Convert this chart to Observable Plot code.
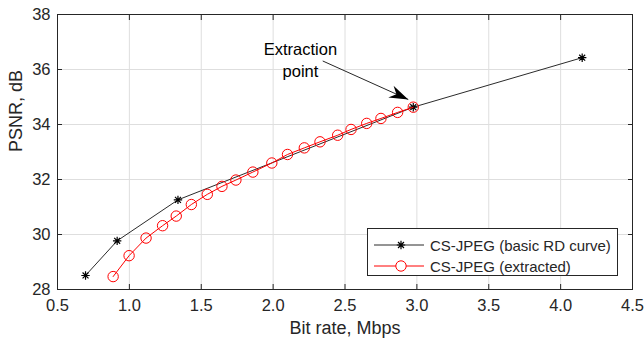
<!DOCTYPE html>
<html>
<head>
<meta charset="utf-8">
<script src="https://cdn.jsdelivr.net/npm/d3@7"></script>
<script src="https://cdn.jsdelivr.net/npm/@observablehq/plot@0.6"></script>
<style>
  html, body { margin: 0; padding: 0; background: #fff; }
  #wrap { position: relative; width: 644px; height: 339px; font-family: "Liberation Sans", Arial, Helvetica, sans-serif; color: #262626; }
  #legend { position: absolute; left: 367px; top: 228px; width: 251px; height: 48px; box-sizing: border-box;
            border: 1px solid #262626; background: #fff; font-size: 15px; }
  #legend .row { position: absolute; left: 0; height: 20px; display: flex; align-items: center; white-space: nowrap; }
  #legend svg { display: block; }
</style>
</head>
<body>
<div id="wrap"></div>
<script>
// ---- data ----
const basicRate = [0.695, 0.915, 1.338, 2.975, 4.15];
const basicPsnr = [28.51, 29.77, 31.26, 34.63, 36.43];

const extractedRate = [0.887, 0.998, 1.116, 1.231, 1.326, 1.431, 1.542, 1.644, 1.741, 1.859,
                       1.991, 2.100, 2.217, 2.326, 2.449, 2.542, 2.651, 2.750, 2.866, 2.975];
const extractedPsnr = [28.47, 29.23, 29.87, 30.32, 30.67, 31.09, 31.46, 31.75, 31.98, 32.27,
                       32.60, 32.91, 33.15, 33.37, 33.61, 33.82, 34.04, 34.22, 34.44, 34.63];

const seriesNames = ["CS-JPEG (basic RD curve)", "CS-JPEG (extracted)"];
const xTicks = [0.5, 1, 1.5, 2, 2.5, 3, 3.5, 4, 4.5];
const yTicks = [28, 30, 32, 34, 36, 38];
const xLabel = "Bit rate, Mbps";
const yLabel = "PSNR, dB";

const noteText = ["Extraction\npoint"];
const noteX = [2.19];
const noteY = [36.40];
const arrowFrom = [2.345, 36.31];
const arrowTo = [2.94, 34.91];

// ---- tables ----
const basic = basicRate.map((x, i) => ({x, y: basicPsnr[i]}));
const extracted = extractedRate.map((x, i) => ({x, y: extractedPsnr[i]}));
const notes = noteText.map((t, i) => ({t, x: noteX[i], y: noteY[i]}));
const arrows = [{x1: arrowFrom[0], y1: arrowFrom[1], x2: arrowTo[0], y2: arrowTo[1]}];

const ink = "#262626";
const blackLine = "#2b2b2b";
const red = "#ff0000";

// 8-armed asterisk like MATLAB '*'
const star = {
  draw(ctx, size) {
    const r = Math.sqrt(size / Math.PI);
    const d = r * Math.SQRT1_2;
    ctx.moveTo(-r, 0); ctx.lineTo(r, 0);
    ctx.moveTo(0, -r); ctx.lineTo(0, r);
    ctx.moveTo(-d, -d); ctx.lineTo(d, d);
    ctx.moveTo(-d, d); ctx.lineTo(d, -d);
  }
};

// filled arrow head
function filledHead(color) {
  const ns = "http://www.w3.org/2000/svg";
  const m = document.createElementNS(ns, "marker");
  m.setAttribute("viewBox", "-20 -10 21 20");
  m.setAttribute("markerWidth", 21);
  m.setAttribute("markerHeight", 20);
  m.setAttribute("markerUnits", "userSpaceOnUse");
  m.setAttribute("orient", "auto");
  m.setAttribute("refX", 0);
  m.setAttribute("refY", 0);
  const p = document.createElementNS(ns, "path");
  p.setAttribute("d", "M0,0L-19,-6.5L-13,0L-19,6.5Z");
  p.setAttribute("fill", "#000");
  p.setAttribute("stroke", "none");
  m.appendChild(p);
  return m;
}

const chart = Plot.plot({
  width: 644,
  height: 339,
  marginLeft: 57,
  marginRight: 12,
  marginTop: 14,
  marginBottom: 50,
  style: {fontFamily: "'Liberation Sans', Arial, Helvetica, sans-serif", fontSize: "16.5px", color: ink, background: "#fff", overflow: "visible"},
  x: {domain: [0.5, 4.5]},
  y: {domain: [28, 38]},
  marks: [
    Plot.gridX(xTicks, {stroke: "#dedede", strokeOpacity: 1}),
    Plot.gridY(yTicks, {stroke: "#dedede", strokeOpacity: 1}),
    Plot.axisX(xTicks, {tickSize: -5, tickPadding: 14.5, label: null, stroke: ink, fill: ink, fontSize: 16.5}),
    Plot.axisX(xTicks, {anchor: "top", tickSize: -5, tickFormat: () => "", label: null, stroke: ink}),
    Plot.axisY(yTicks, {tickSize: -5, tickPadding: 12, label: null, stroke: ink, fill: ink, fontSize: 16.5}),
    Plot.axisY(yTicks, {anchor: "right", tickSize: -5, tickFormat: () => "", label: null, stroke: ink}),
    Plot.frame({stroke: ink, strokeWidth: 1}),
    Plot.text([xLabel], {frameAnchor: "bottom", dy: 44.5, text: d => d, fontSize: 18, fill: ink}),
    Plot.text([yLabel], {frameAnchor: "left", dx: -41.5, rotate: -90, text: d => d, fontSize: 18, fill: ink}),
    Plot.line(basic, {x: "x", y: "y", stroke: blackLine, strokeWidth: 1}),
    Plot.dot(basic, {x: "x", y: "y", symbol: star, r: 4.2, stroke: "#000", strokeWidth: 1.2}),
    Plot.line(extracted, {x: "x", y: "y", stroke: red, strokeWidth: 1}),
    Plot.dot(extracted, {x: "x", y: "y", r: 5.2, stroke: red, fill: "none", strokeWidth: 1}),
    Plot.link(arrows, {x1: "x1", y1: "y1", x2: "x2", y2: "y2", stroke: ink, strokeWidth: 1, markerEnd: filledHead}),
    Plot.text(notes, {x: "x", y: "y", text: "t", fontSize: 16.5, lineHeight: 1.35, fill: "#000"})
  ]
});

const wrap = document.getElementById("wrap");
wrap.appendChild(chart);

// legend (HTML overlay)
const legend = document.createElement("div");
legend.id = "legend";
const ns = "http://www.w3.org/2000/svg";
seriesNames.forEach((name, i) => {
  const row = document.createElement("div");
  row.className = "row";
  row.style.top = (i === 0 ? 6 : 27) + "px";
  const svg = document.createElementNS(ns, "svg");
  svg.setAttribute("width", 62);
  svg.setAttribute("height", 20);
  const ln = document.createElementNS(ns, "line");
  ln.setAttribute("x1", 6); ln.setAttribute("x2", 56);
  ln.setAttribute("y1", 10); ln.setAttribute("y2", 10);
  ln.setAttribute("stroke", i === 0 ? blackLine : red);
  svg.appendChild(ln);
  if (i === 0) {
    const p = d3.path();
    star.draw(p, Math.PI * 4.2 * 4.2);
    const s = document.createElementNS(ns, "path");
    s.setAttribute("d", p.toString());
    s.setAttribute("transform", "translate(33,10)");
    s.setAttribute("stroke", "#000");
    s.setAttribute("stroke-width", 1.2);
    svg.appendChild(s);
  } else {
    const c = document.createElementNS(ns, "circle");
    c.setAttribute("cx", 33); c.setAttribute("cy", 10); c.setAttribute("r", 5.2);
    c.setAttribute("fill", "#fff"); c.setAttribute("stroke", red);
    svg.appendChild(c);
  }
  row.appendChild(svg);
  const t = document.createElement("span");
  t.textContent = name;
  row.appendChild(t);
  legend.appendChild(row);
});
wrap.appendChild(legend);
</script>
</body>
</html>
